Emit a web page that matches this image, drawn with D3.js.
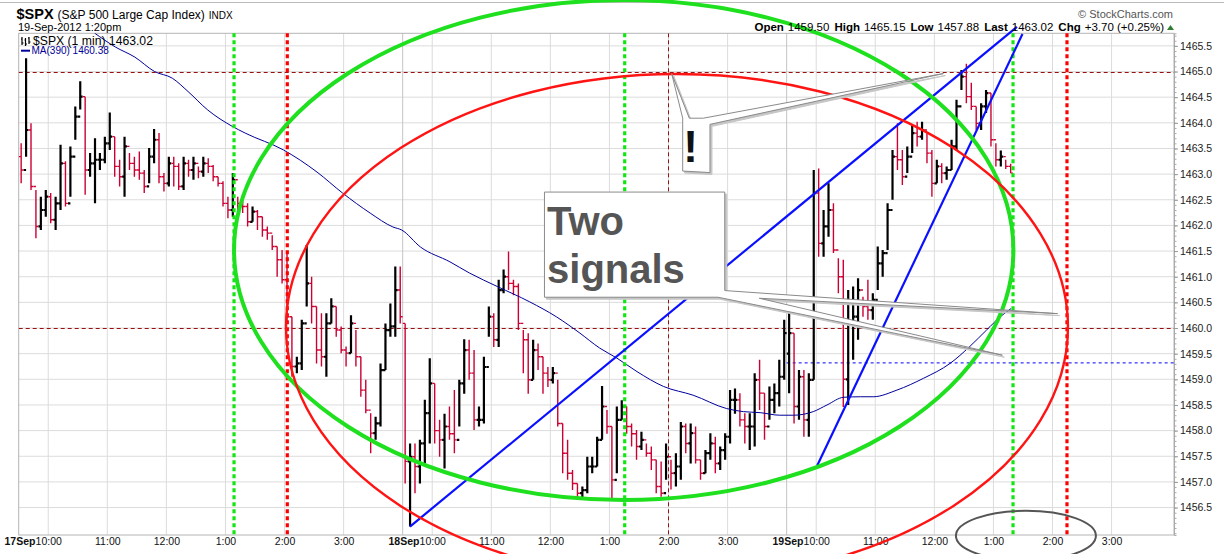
<!DOCTYPE html>
<html>
<head>
<meta charset="utf-8">
<script src="https://cdn.jsdelivr.net/npm/d3@7"></script>
<style>
  body { margin: 0; background: #fff; }
  svg { display: block; font-family: "Liberation Sans", Arial, sans-serif; }
</style>
</head>
<body>
<div id="chart"></div>
<script>
// 5-minute buckets (minutes counted from 17Sep 9:30, 390 per session)
const dayNames = ["17Sep", "18Sep", "19Sep"];
const dayOpens = [1463.34, 1460.09, 1459.50];

const day1High = [1463.60,1465.26,1463.99,1462.69,1462.56,1462.69,1462.63,1462.56,1463.57,1463.25,
  1463.54,1464.32,1464.81,1464.51,1463.41,1463.70,1463.41,1463.73,1464.20,1463.73,
  1463.28,1463.73,1463.41,1463.34,1463.44,1463.08,1463.51,1463.88,1463.80,1463.02,
  1463.34,1463.34,1463.21,1463.34,1463.28,1463.34,1463.15,1463.34,1463.31,1463.18,
  1462.95,1462.86,1462.56,1463.02,1462.56,1462.50,1462.43,1462.37,1462.30,1462.17,
  1461.98,1461.81,1461.59,1461.52,1461.46,1460.22,1459.44,1460.16,1461.62,1461.00,
  1460.42,1460.29,1460.29,1460.58,1460.42,1460.03,1459.64,1460.25,1459.96,1459.44,
  1458.99,1458.34,1458.27,1459.31,1460.09,1460.48,1461.20,1461.20];
const day1Low = [1462.82,1463.34,1462.69,1461.75,1461.91,1462.17,1462.04,1461.91,1462.30,1462.37,
  1462.56,1463.67,1464.26,1462.60,1462.95,1462.43,1463.08,1463.21,1463.47,1462.95,
  1462.76,1462.56,1463.08,1462.95,1462.89,1462.63,1462.82,1463.21,1462.82,1462.66,
  1462.76,1462.76,1462.69,1462.69,1462.95,1462.89,1462.92,1462.95,1463.02,1462.86,
  1462.76,1462.37,1462.14,1462.17,1462.27,1462.24,1461.98,1462.07,1461.91,1461.78,
  1461.72,1461.52,1461.00,1460.87,1460.09,1459.05,1459.12,1459.18,1460.42,1460.09,
  1459.31,1459.25,1459.05,1460.09,1459.83,1459.51,1459.25,1459.51,1459.25,1458.66,
  1458.34,1457.56,1457.82,1458.08,1459.18,1459.83,1459.83,1460.09];
const day1Close = [1463.08,1463.86,1462.76,1461.98,1462.30,1462.56,1462.11,1462.43,1463.21,1462.43,
  1463.34,1464.12,1464.51,1463.08,1463.21,1463.28,1463.28,1463.60,1463.73,1463.15,
  1462.95,1463.54,1463.21,1463.08,1463.02,1462.76,1463.34,1463.67,1462.95,1462.82,
  1463.21,1463.15,1462.76,1463.21,1463.08,1463.21,1463.05,1463.21,1463.15,1462.95,
  1462.82,1462.43,1462.30,1462.89,1462.43,1462.37,1462.07,1462.27,1462.17,1461.91,
  1461.85,1461.59,1461.33,1460.94,1460.22,1459.25,1459.31,1460.09,1460.87,1460.42,
  1459.57,1459.44,1460.09,1460.42,1459.96,1459.57,1459.51,1460.09,1459.44,1458.79,
  1458.40,1457.95,1458.14,1459.18,1459.96,1460.03,1460.74,1460.22];

const day2High = [1460.09,1457.75,1457.75,1457.82,1458.60,1459.41,1458.92,1458.21,1458.33,1458.47,
  1458.79,1458.99,1459.78,1459.77,1459.57,1458.47,1459.44,1460.42,1460.29,1460.94,
  1461.14,1461.49,1460.94,1460.87,1459.96,1459.90,1459.77,1459.70,1459.44,1459.24,
  1459.24,1458.99,1458.14,1457.82,1457.23,1456.97,1456.91,1457.49,1457.49,1457.88,
  1458.87,1458.40,1458.08,1458.47,1458.59,1458.47,1458.14,1458.01,1457.98,1457.75,
  1457.69,1457.43,1457.40,1457.75,1457.43,1457.56,1458.17,1458.14,1458.14,1458.08,
  1457.43,1457.62,1457.95,1457.88,1457.69,1457.95,1458.79,1458.82,1458.73,1458.34,
  1458.34,1459.12,1459.38,1458.73,1458.86,1458.92,1459.38,1460.16];
const day2Low = [1456.97,1456.13,1456.78,1456.97,1457.36,1457.75,1457.75,1457.49,1457.26,1457.82,
  1457.56,1458.08,1458.72,1458.99,1458.01,1458.08,1458.14,1459.83,1459.63,1459.63,
  1460.68,1460.74,1460.64,1459.96,1459.12,1458.72,1458.99,1459.18,1458.72,1458.85,
  1458.92,1458.08,1457.17,1457.04,1456.84,1456.68,1456.68,1456.78,1457.17,1457.30,
  1457.82,1457.94,1456.64,1457.17,1458.21,1457.94,1457.69,1457.43,1457.62,1457.49,
  1457.23,1456.78,1456.71,1457.04,1456.85,1456.91,1457.04,1457.56,1457.36,1457.36,
  1457.04,1457.17,1457.43,1457.17,1457.23,1457.43,1457.75,1458.33,1458.08,1457.75,
  1457.62,1457.69,1458.40,1457.82,1458.21,1458.34,1458.47,1458.99];
const day2Close = [1457.40,1457.49,1457.30,1457.75,1458.34,1458.92,1458.00,1457.82,1458.08,1457.94,
  1457.82,1458.92,1459.57,1459.12,1458.21,1458.21,1459.24,1460.22,1459.77,1460.74,
  1461.00,1460.87,1460.81,1460.09,1459.77,1458.99,1459.57,1459.44,1459.12,1458.99,
  1459.12,1458.14,1457.56,1457.17,1456.97,1456.78,1456.84,1457.30,1457.30,1457.82,
  1458.47,1458.08,1457.04,1458.21,1458.47,1458.08,1457.94,1457.69,1457.82,1457.56,
  1457.43,1456.91,1456.78,1457.49,1457.17,1457.30,1458.08,1457.75,1457.95,1457.43,
  1457.17,1457.56,1457.75,1457.36,1457.62,1457.88,1458.60,1458.60,1458.21,1458.08,
  1458.08,1458.99,1458.73,1458.08,1458.60,1458.73,1459.05,1459.90];

const day3High = [1460.42,1459.90,1459.18,1459.18,1459.12,1463.08,1463.11,1462.30,1462.82,1462.43,
  1461.36,1461.33,1460.74,1460.81,1460.97,1460.61,1460.94,1460.68,1461.59,1461.52,
  1462.43,1463.47,1463.99,1463.47,1463.54,1463.96,1464.02,1464.02,1463.80,1463.47,
  1463.28,1463.21,1463.15,1463.67,1464.45,1465.03,1465.15,1464.78,1464.32,1464.38,
  1464.64,1464.58,1463.60,1463.46,1463.28,1463.20];
const day3Low = [1458.73,1458.14,1458.21,1457.88,1457.88,1458.99,1461.39,1461.39,1461.78,1461.46,
  1460.68,1458.46,1458.50,1459.38,1459.77,1460.22,1460.16,1460.16,1460.74,1461.00,
  1461.52,1462.50,1463.08,1462.79,1463.02,1463.41,1463.54,1463.67,1463.21,1462.56,
  1462.82,1462.82,1462.89,1463.08,1463.47,1464.64,1464.38,1464.25,1463.86,1463.86,
  1464.19,1463.54,1463.15,1463.15,1463.10,1463.02];
const day3Close = [1459.90,1458.47,1459.05,1458.21,1458.99,1462.63,1461.65,1461.98,1462.30,1461.52,
  1461.00,1459.00,1460.09,1460.22,1460.74,1460.42,1460.35,1460.55,1461.26,1461.46,
  1462.30,1463.34,1463.28,1462.95,1463.34,1463.80,1463.73,1463.86,1463.41,1462.82,
  1463.15,1463.02,1463.08,1463.54,1464.32,1464.90,1464.51,1464.32,1463.99,1464.32,
  1464.58,1463.67,1463.28,1463.34,1463.15,1463.02];

// MA(390) read at sample points
const maMinutes = [77,98,118,138,156,172,192,217,230,269,303,329,357,380,389,408,438,458,486,519,
  546,570,590,607,628,655,685,719,736,753,773,787,807,821,838,855,868,892,919,946,966,983,997,1008];
const maValues = [1465.75,1465.48,1465.28,1465.00,1464.87,1464.61,1464.25,1463.93,1463.80,1463.47,
  1463.04,1462.63,1462.24,1461.97,1461.91,1461.58,1461.29,1461.07,1460.81,1460.51,
  1460.22,1459.90,1459.61,1459.42,1459.15,1458.86,1458.69,1458.43,1458.37,1458.35,
  1458.30,1458.30,1458.37,1458.50,1458.65,1458.66,1458.66,1458.79,1459.02,1459.31,
  1459.64,1459.96,1460.22,1460.38];

const xTickMinutes = [30,90,150,210,270,330,420,480,540,600,660,720,810,870,930,990,1050,1110];
const xTickLabels = ["10:00","11:00","12:00","1:00","2:00","3:00","10:00","11:00","12:00","1:00","2:00","3:00",
  "10:00","11:00","12:00","1:00","2:00","3:00"];
const dayLabelTicks = [30, 420, 810];
const dayStartMinutes = [390, 780];
const yTickValues = [1456.5,1457.0,1457.5,1458.0,1458.5,1459.0,1459.5,1460.0,1460.5,
  1461.0,1461.5,1462.0,1462.5,1463.0,1463.5,1464.0,1464.5,1465.0,1465.5];

// annotations, in (minute, price)
const levelPrices = [1465.0, 1460.0];
const prevClose = 1459.32;
const greenCycleMinutes = [218.7, 615.5, 1009.9];
const redCycleMinutes = [272.8, 1064.7];
const thinRedMinutes = [659.1];
const trendLines = [[397.4, 1456.13, 1013.9, 1465.87], [810.8, 1457.31, 1019.5, 1465.73]];
const ellipses = [[614.5, 1461.52, 395.8, 4.873], [668.6, 1460.02, 397.1, 4.932], [1023, 1455.95, 71.1, 0.487]];
const bangCallout = [[674.4,1463.06],[674.4,1464.09],[663.2,1464.96],[681.1,1464.09],[695.3,1464.09],
  [939.1,1464.96],[702.1,1463.97],[702.1,1463.03]];
const bangAnchor = [682.5, 1463.24];
const signalsCallout = [[534.0,1460.60],[534.0,1462.65],[717.1,1462.65],[717.1,1460.73],[1055.2,1460.28],
  [752.2,1460.58],[999.1,1459.47],[710.2,1460.60]];
const signalsLines = ["Two", "signals"];
const signalsAnchors = [[536.6, 1461.81], [536.6, 1460.87]];

const headerLabels = ["Open", "High", "Low", "Last", "Chg"];
const headerValues = ["1459.50", "1465.15", "1457.88", "1463.02", "+3.70 (+0.25%)"];
const lastValue = "1463.02";
const maLast = "1460.38";

const width = 1224, height = 554;
const plot = { left: 18.7, right: 1174, top: 33.3, bottom: 535 };

const svg = d3.select("#chart").append("svg").attr("width", width).attr("height", height);
svg.append("rect").attr("width", width).attr("height", height).attr("fill", "#fff");

const x = d3.scaleLinear().domain([0, 1173.4]).range([plot.left, plot.right]);
const y = d3.scaleLinear().domain([1455.965, 1465.745]).range([plot.bottom, plot.top]);

svg.append("clipPath").attr("id", "plotClip").append("rect")
  .attr("x", plot.left).attr("y", plot.top)
  .attr("width", plot.right - plot.left).attr("height", plot.bottom - plot.top);

// build bars
const highs = [day1High, day2High, day3High], lows = [day1Low, day2Low, day3Low], closes = [day1Close, day2Close, day3Close];
const bars = [];
highs.forEach((hs, d) => {
  hs.forEach((h, k) => {
    bars.push({
      m: d * 390 + k * 5 + 2.5,
      open: k === 0 ? dayOpens[d] : closes[d][k - 1],
      high: h, low: lows[d][k], close: closes[d][k]
    });
  });
});

// top strip
svg.append("line").attr("x1", 0).attr("x2", width).attr("y1", 2.5).attr("y2", 2.5)
  .attr("stroke", "#bbb").attr("stroke-width", 1);

// grid
const grid = svg.append("g");
grid.selectAll("line.h").data(yTickValues).join("line").attr("class", "h")
  .attr("x1", plot.left).attr("x2", plot.right)
  .attr("y1", d => y(d)).attr("y2", d => y(d))
  .attr("stroke", "#dcdcdc");
grid.selectAll("line.v").data(xTickMinutes.concat(dayStartMinutes)).join("line").attr("class", "v")
  .attr("x1", d => x(d)).attr("x2", d => x(d))
  .attr("y1", plot.top).attr("y2", plot.bottom)
  .attr("stroke", d => dayStartMinutes.includes(d) ? "#c4c4c4" : "#dcdcdc");

svg.append("rect").attr("x", plot.left).attr("y", plot.top)
  .attr("width", plot.right - plot.left).attr("height", plot.bottom - plot.top)
  .attr("fill", "none").attr("stroke", "#b4b4b4");

// axes
const xAxisG = svg.append("g").attr("transform", `translate(0,${plot.bottom})`)
  .call(d3.axisBottom(x).tickValues(xTickMinutes).tickFormat((d, i) => xTickLabels[i]).tickSize(0).tickPadding(3));
xAxisG.select(".domain").remove();
xAxisG.selectAll("text").attr("font-size", 10.5).attr("fill", "#111").attr("font-family", null);
xAxisG.selectAll(".tick").filter(d => dayLabelTicks.includes(d))
  .append("text").attr("x", -13.3).attr("y", 3).attr("dy", "0.71em")
  .attr("text-anchor", "end").attr("font-size", 10.5).attr("font-weight", "bold").attr("fill", "#111")
  .text(d => dayNames[dayLabelTicks.indexOf(d)]);

const minorTicks = d3.range(14560, 14658, 1).map(t => t / 10).filter(t => t <= 1465.7);
const yMinor = svg.append("g").attr("transform", `translate(${plot.right},0)`)
  .call(d3.axisRight(y).tickValues(minorTicks).tickSize(2.5).tickFormat(""));
yMinor.select(".domain").attr("stroke", "#aaa");
yMinor.selectAll(".tick line").attr("stroke", "#aaa");
const yAxisG = svg.append("g").attr("transform", `translate(${plot.right},0)`)
  .call(d3.axisRight(y).tickValues(yTickValues).tickSize(4).tickPadding(2).tickFormat(d3.format(".1f")));
yAxisG.select(".domain").remove();
yAxisG.selectAll(".tick line").attr("stroke", "#999");
yAxisG.selectAll("text").attr("font-size", 10.5).attr("fill", "#222").attr("font-family", null);

// level lines and previous close
const levels = svg.append("g").attr("clip-path", "url(#plotClip)");
levels.selectAll("line.lvl").data(levelPrices).join("line").attr("class", "lvl")
  .attr("x1", plot.left).attr("x2", plot.right)
  .attr("y1", d => Math.round(y(d)) + 0.5).attr("y2", d => Math.round(y(d)) + 0.5)
  .attr("stroke", "#9a1010").attr("stroke-width", 1).attr("stroke-dasharray", "4,3");
levels.append("line")
  .attr("x1", x(780)).attr("x2", plot.right)
  .attr("y1", y(prevClose)).attr("y2", y(prevClose))
  .attr("stroke", "#0000ff").attr("stroke-width", 1).attr("stroke-dasharray", "3,3");
levels.selectAll("line.thin").data(thinRedMinutes).join("line").attr("class", "thin")
  .attr("x1", d => Math.round(x(d)) + 0.5).attr("x2", d => Math.round(x(d)) + 0.5)
  .attr("y1", plot.top).attr("y2", plot.bottom)
  .attr("stroke", "#9a1010").attr("stroke-width", 1).attr("stroke-dasharray", "4,3");

// bars: up bars heavier black, down bars thin crimson
svg.append("g").attr("clip-path", "url(#plotClip)")
  .selectAll("path.bar").data(bars).join("path").attr("class", "bar")
  .attr("d", d => {
    const cx = x(d.m);
    return `M${cx},${y(d.high)}V${y(d.low)}M${cx - 2.4},${y(d.open)}H${cx}M${cx},${y(d.close)}H${cx + 2.4}`;
  })
  .attr("fill", "none")
  .attr("stroke", d => d.close >= d.open ? "#000" : "#cc0033")
  .attr("stroke-width", d => d.close >= d.open ? 2.2 : 1.4);

// moving average
const maPts = maMinutes.map((m, i) => [m, maValues[i]]);
svg.append("path").datum(maPts).attr("clip-path", "url(#plotClip)")
  .attr("d", d3.line().x(d => x(d[0])).y(d => y(d[1])).curve(d3.curveMonotoneX))
  .attr("fill", "none").attr("stroke", "#000099").attr("stroke-width", 1);

// cycle markers
const cyc = svg.append("g");
cyc.selectAll("line.g").data(greenCycleMinutes).join("line").attr("class", "g")
  .attr("x1", d => x(d)).attr("x2", d => x(d)).attr("y1", plot.top).attr("y2", plot.bottom)
  .attr("stroke", "#11e611").attr("stroke-width", 3.2).attr("stroke-dasharray", "4,3");
cyc.selectAll("line.r").data(redCycleMinutes).join("line").attr("class", "r")
  .attr("x1", d => x(d)).attr("x2", d => x(d)).attr("y1", plot.top).attr("y2", plot.bottom)
  .attr("stroke", "#ff0000").attr("stroke-width", 3.2).attr("stroke-dasharray", "4,3");

// trend lines
svg.selectAll("line.trend").data(trendLines).join("line").attr("class", "trend")
  .attr("x1", d => x(d[0])).attr("y1", d => y(d[1]))
  .attr("x2", d => x(d[2])).attr("y2", d => y(d[3]))
  .attr("stroke", "#0a10ff").attr("stroke-width", 2.2);

// ellipses
const ellipseStroke = ["#1ee01e", "#ff1414", "#555"];
const ellipseWidth = [4, 2.4, 2];
svg.selectAll("ellipse.ann").data(ellipses).join("ellipse").attr("class", "ann")
  .attr("cx", d => x(d[0])).attr("cy", d => y(d[1]))
  .attr("rx", d => x(d[0] + d[2]) - x(d[0])).attr("ry", d => y(d[1] - d[3]) - y(d[1]))
  .attr("fill", "none")
  .attr("stroke", (d, i) => ellipseStroke[i])
  .attr("stroke-width", (d, i) => ellipseWidth[i]);

// callouts
function drawCallout(pts) {
  const g = svg.append("g");
  const p = pts.map(d => [x(d[0]), y(d[1])].join(",")).join(" ");
  g.append("polygon").attr("points", p).attr("transform", "translate(2,2)")
    .attr("fill", "#c6c6c6").attr("stroke", "#c6c6c6").attr("stroke-width", 1);
  g.append("polygon").attr("points", p)
    .attr("fill", "#fff").attr("stroke", "#8a8a8a").attr("stroke-width", 1);
  return g;
}
drawCallout(bangCallout).append("text")
  .attr("x", x(bangAnchor[0])).attr("y", y(bangAnchor[1]))
  .attr("text-anchor", "middle").attr("font-size", 44).attr("font-weight", "bold").attr("fill", "#111")
  .text("!");
const sg = drawCallout(signalsCallout);
sg.selectAll("text").data(signalsLines).join("text")
  .attr("x", (d, i) => x(signalsAnchors[i][0])).attr("y", (d, i) => y(signalsAnchors[i][1]))
  .attr("font-size", 40).attr("font-weight", "bold").attr("fill", "#555")
  .text(d => d);

// legend inside plot
const leg = svg.append("g");
leg.append("path").attr("d", "M22,37V45M21,39H22M22,43H23.5M25.5,38V46M24.5,40H25.5M25.5,44H27M29,37V44M28,38H29M29,42H30.5")
  .attr("stroke", "#000").attr("stroke-width", 1.2).attr("fill", "none");
leg.append("text").attr("x", 33).attr("y", 44.5).attr("font-size", 12.2).attr("fill", "#000")
  .text(`$SPX (1 min) ${lastValue}`);
leg.append("line").attr("x1", 21).attr("x2", 30).attr("y1", 50.7).attr("y2", 50.7)
  .attr("stroke", "#000099").attr("stroke-width", 2);
leg.append("text").attr("x", 31.5).attr("y", 54.3).attr("font-size", 10).attr("fill", "#000099")
  .text(`MA(390) ${maLast}`);

// header
const hdr = svg.append("g");
const t1 = hdr.append("text").attr("x", 16.5).attr("y", 18.5).attr("fill", "#000");
t1.append("tspan").attr("font-size", 14.5).attr("font-weight", "bold").text("$SPX");
t1.append("tspan").attr("font-size", 12).attr("dx", 4).text("(S&P 500 Large Cap Index)");
t1.append("tspan").attr("font-size", 10).attr("dx", 4).text("INDX");
hdr.append("text").attr("x", 18).attr("y", 30.5).attr("font-size", 11).attr("fill", "#000")
  .text("19-Sep-2012 1:20pm");
hdr.append("text").attr("x", 1173).attr("y", 17.5).attr("text-anchor", "end")
  .attr("font-size", 11).attr("fill", "#555").text("\u00A9 StockCharts.com");
const t2 = hdr.append("text").attr("x", 1164).attr("y", 30.5).attr("text-anchor", "end")
  .attr("font-size", 11.5).attr("fill", "#000");
headerLabels.forEach((lab, i) => {
  t2.append("tspan").attr("font-weight", "bold").attr("dx", i === 0 ? 0 : 5).text(lab);
  t2.append("tspan").attr("dx", 4).text(headerValues[i]);
});
hdr.append("path").attr("d", "M1167,30L1170.5,25L1174,30Z").attr("fill", "#2e7d32");
</script>
</body>
</html>
